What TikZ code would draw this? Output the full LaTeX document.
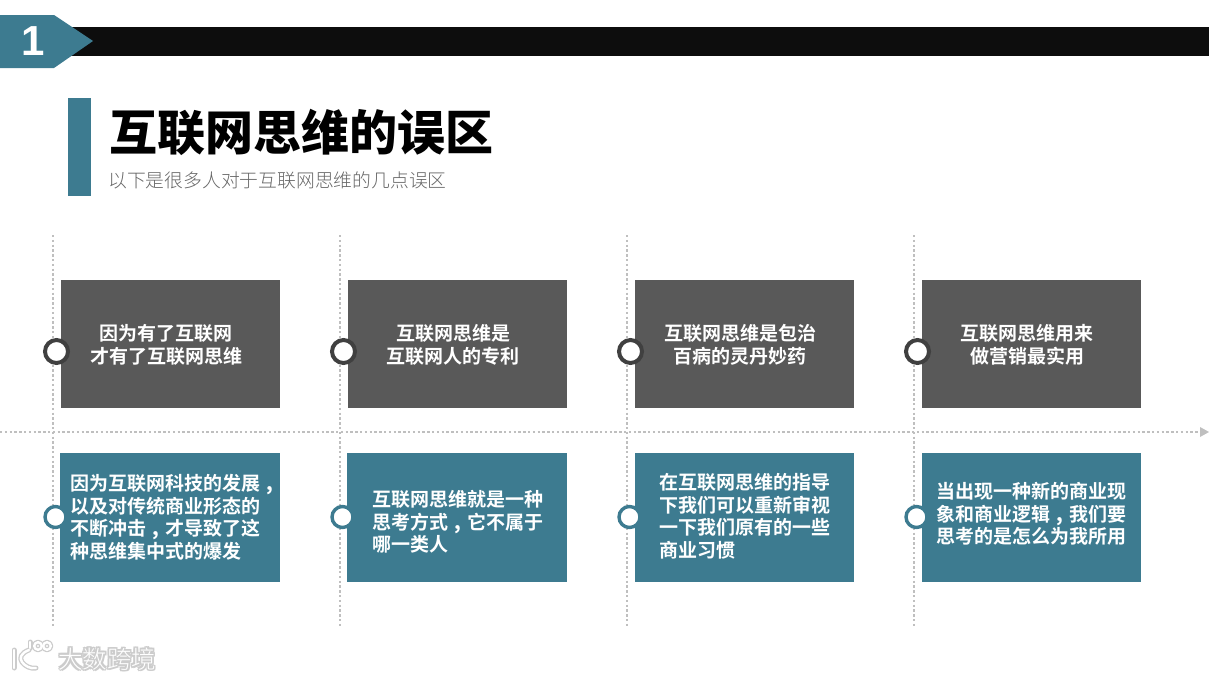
\documentclass[tikz,border=0pt]{standalone}
\usepackage{fontspec}
\setmainfont{Liberation Sans}
\newfontfamily\cjkb{Noto Sans CJK SC Bold}
\newfontfamily\cjkbl{Noto Sans CJK SC Black}
\newfontfamily\cjkl{Noto Sans CJK SC Light}
\definecolor{teal1}{HTML}{3D7B90}
\definecolor{dark1}{HTML}{595959}
\definecolor{ring1}{HTML}{404040}
\definecolor{bar1}{HTML}{0D0D0D}
\definecolor{dot1}{HTML}{BFBFBF}
\newcommand{\cm}{\makebox[1em][c]{\textbf{,}}}
\tikzset{
  card/.style={minimum width=219pt,minimum height=128pt,inner sep=0pt,outer sep=0pt},
  darkcard/.style={card,fill=dark1},
  tealcard/.style={card,fill=teal1,minimum height=129pt},
  dotline/.style={draw=dot1,line width=2.4pt,dash pattern=on 2.4pt off 2.4pt},
  ringdark/.style={circle,fill=white,draw=ring1,line width=4pt,minimum size=23pt,inner sep=0pt},
  ringteal/.style={circle,fill=white,draw=teal1,line width=3.4pt,minimum size=21pt,inner sep=0pt},
  cardhead/.style={inner sep=0pt,text=white,align=center,font=\fontsize{19}{23}\selectfont\cjkb},
  cardtext/.style={anchor=west,inner sep=0pt,text=white,align=left,font=\fontsize{19}{22.5}\selectfont\cjkb},
  logoglow/.style={draw=black!20,line width=5pt,line cap=round,line join=round},
  logoline/.style={draw=white,line width=2.4pt,line cap=round,line join=round},
  wmglow/.style={anchor=west,inner sep=0pt,font=\fontsize{24.5}{26}\selectfont\cjkb,text=black!20},
  wmtext/.style={anchor=west,inner sep=0pt,font=\fontsize{24.5}{26}\selectfont\cjkl,text=white},
}
\newcommand{\logopath}[1]{%
  \draw[#1] (14,650) -- (14,668);
  \draw[#1] (29,650) .. controls (21,653) and (19,658) .. (22,662) .. controls (25,666) and (30,669) .. (36,668);
  \draw[#1] (30,648) -- (30,642);
  \draw[#1] (38,646) circle[radius=3.8pt];
  \draw[#1] (47,646) circle[radius=3.8pt];
}
\begin{document}
\begin{tikzpicture}[x=1pt,y=-1pt]
\useasboundingbox (0,0) rectangle (1209,680);
% header
\fill[bar1] (60,27) rectangle (1209,56);
\fill[teal1] (0,15) -- (54,15) -- (93,41) -- (54,68) -- (0,68) -- cycle;
\node[text=white,font=\fontsize{42}{42}\selectfont\bfseries] (num) at (33.5,41) {1};
% title
\fill[teal1] (68,98) rectangle (91,196);
\node[anchor=west,inner sep=0pt,font=\fontsize{48}{54}\selectfont\cjkbl,text=black] (title) at (109,132.5) {互联网思维的误区};
\node[anchor=west,inner sep=0pt,font=\fontsize{18.8}{24}\selectfont\cjkl,text=black!60] (subtitle) at (108,180) {以下是很多人对于互联网思维的几点误区};
% guides
\coordinate (h0) at (0,432);
\coordinate (h1) at (1200,432);
\draw[dotline] (h0) -- (h1);
\fill[dot1] (1200,427) -- (1209,432) -- (1200,437) -- cycle;
\foreach \x/\n in {53/a,340/b,627/c,914/d}{
  \coordinate (\n top) at (\x,235);
  \coordinate (\n bot) at (\x,627);
  \draw[dotline] (\n top) -- (\n bot);
}
% top row
\node[darkcard] (c1) at (170.5,344) {};
\node[darkcard] (c2) at (457.5,344) {};
\node[darkcard] (c3) at (744.5,344) {};
\node[darkcard] (c4) at (1031.5,344) {};
\node[cardhead] (h1t) at (166,345) {因为有了互联网\\才有了互联网思维};
\node[cardhead] (h2t) at (453,345) {互联网思维是\\互联网人的专利};
\node[cardhead] (h3t) at (740,345) {互联网思维是包治\\百病的灵丹妙药};
\node[cardhead] (h4t) at (1027,345) {互联网思维用来\\做营销最实用};
\node[ringdark] (r1) at (56.5,351.5) {};
\node[ringdark] (r2) at (343.5,351.5) {};
\node[ringdark] (r3) at (630.5,351.5) {};
\node[ringdark] (r4) at (917.5,351.5) {};
% bottom row
\node[tealcard,minimum width=220pt] (d1) at (170,517.5) {};
\node[tealcard,minimum width=220pt] (d2) at (457,517.5) {};
\node[tealcard] (d3) at (744.5,517.5) {};
\node[tealcard] (d4) at (1031.5,517.5) {};
\node[cardtext] (t1) at (70,517) {因为互联网科技的发展\cm\\以及对传统商业形态的\\不断冲击\cm 才导致了这\\种思维集中式的爆发};
\node[cardtext] (t2) at (372,522) {互联网思维就是一种\\思考方式\cm 它不属于\\哪一类人};
\node[cardtext] (t3) at (659,516.5) {在互联网思维的指导\\下我们可以重新审视\\一下我们原有的一些\\商业习惯};
\node[cardtext] (t4) at (936,514) {当出现一种新的商业现\\象和商业逻辑\cm 我们要\\思考的是怎么为我所用};
\node[ringteal] (s1) at (55.5,517) {};
\node[ringteal] (s2) at (342.5,517) {};
\node[ringteal] (s3) at (629.5,517) {};
\node[ringteal] (s4) at (916.5,517) {};
% watermark
\logopath{logoglow}
\logopath{logoline}
\foreach \dx/\dy in {-1/-1,1/-1,-1/1,1/1,0/0}{
  \node[wmglow] at (58+\dx,659+\dy) {大数跨境};
}
\node[wmtext] (wm) at (58,659) {大数跨境};
\end{tikzpicture}
\end{document}
